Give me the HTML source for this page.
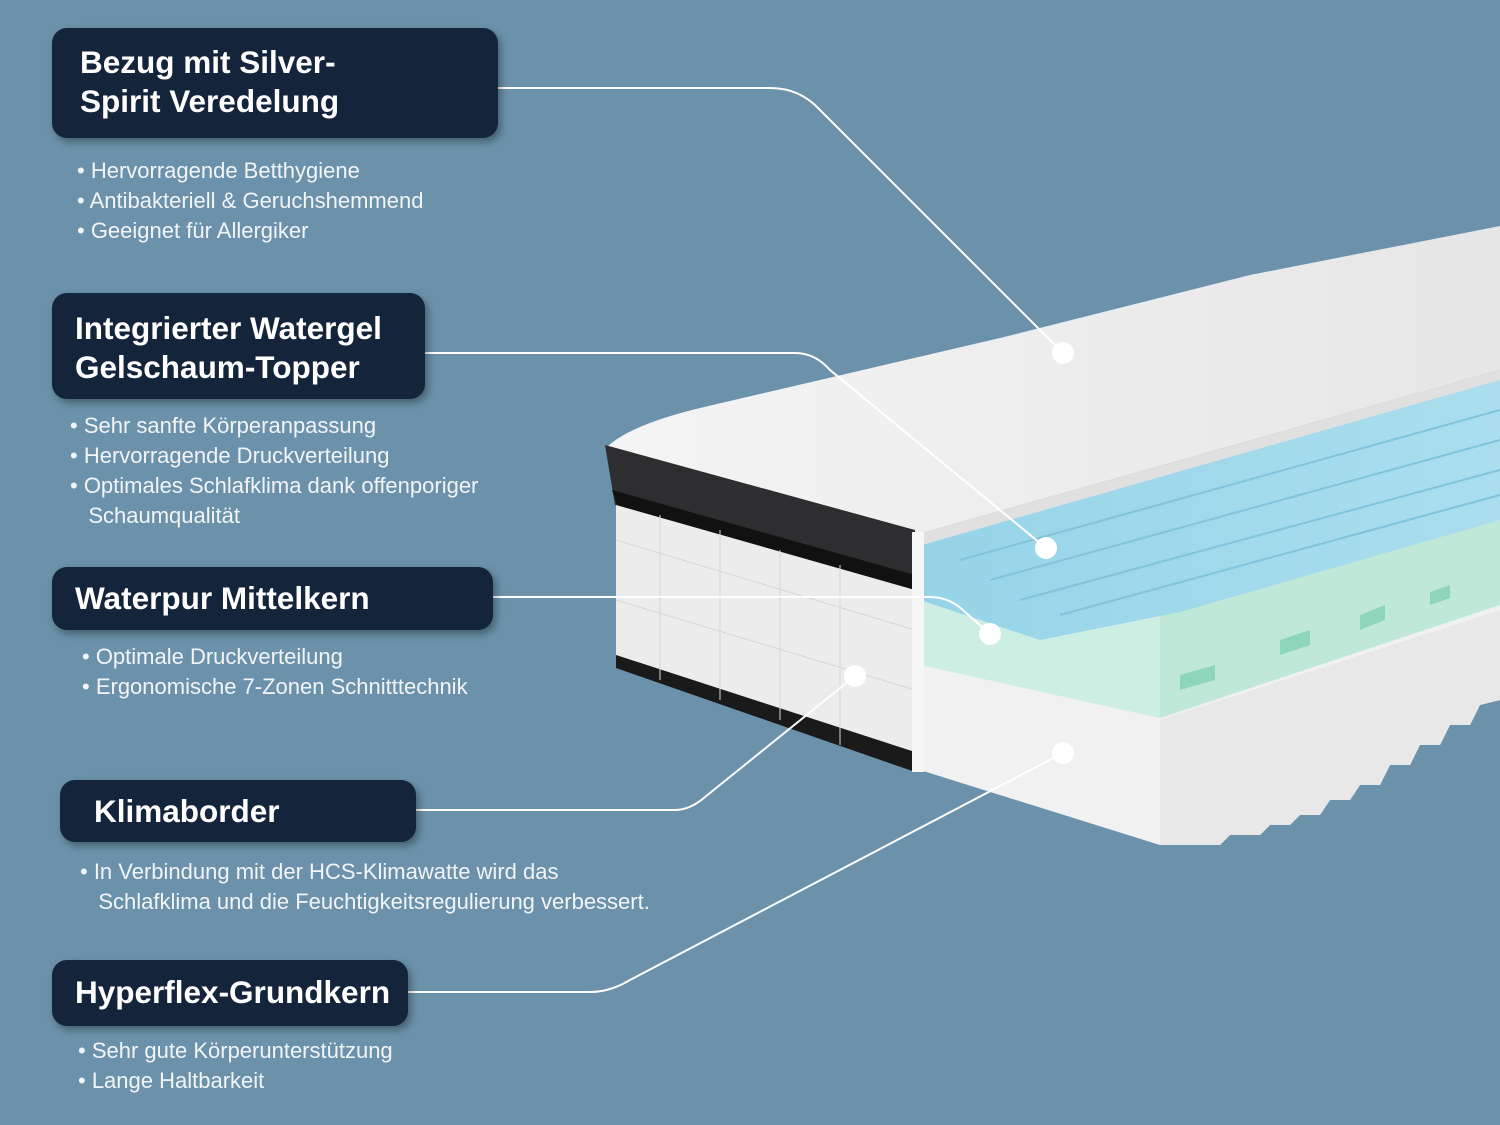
<!DOCTYPE html>
<html><head><meta charset="utf-8"><style>
body{margin:0;width:1500px;height:1125px;background:#6b92aa;position:relative;overflow:hidden;font-family:"Liberation Sans",Arial,sans-serif;}
.box{position:absolute;background:#14243b;border-radius:15px;color:#fff;font-weight:bold;font-size:31.5px;line-height:39px;box-shadow:3px 4px 8px rgba(0,0,0,0.35);box-sizing:border-box;white-space:nowrap;}
.ul{position:absolute;color:#f2f5f8;font-size:22px;line-height:30px;white-space:nowrap;}
svg{position:absolute;left:0;top:0;}
</style></head><body>
<svg width="1500" height="1125" viewBox="0 0 1500 1125">
<defs>
<linearGradient id="cov" x1="0" y1="0" x2="1" y2="0"><stop offset="0" stop-color="#f4f4f4"/><stop offset="1" stop-color="#e6e6e6"/></linearGradient>
<linearGradient id="blu" x1="0" y1="0" x2="1" y2="0"><stop offset="0" stop-color="#97d4e8"/><stop offset="1" stop-color="#aadeee"/></linearGradient>
</defs>
<polygon points="920,660 1500,590 1500,700 1480,705 1470,725 1450,725 1440,745 1420,745 1410,765 1390,765 1380,785 1360,785 1350,800 1330,800 1320,815 1300,815 1290,825 1270,825 1260,835 1230,835 1220,845 1160,845 920,770" fill="#f1f1f1"/>
<polygon points="1160,720 1500,610 1500,700 1480,705 1470,725 1450,725 1440,745 1420,745 1410,765 1390,765 1380,785 1360,785 1350,800 1330,800 1320,815 1300,815 1290,825 1270,825 1260,835 1230,835 1220,845 1160,845" fill="#e8e8e8"/>
<polygon points="920,590 1500,505 1500,605 1160,718 920,665" fill="#cdeee3"/>
<polygon points="1160,610 1500,505 1500,605 1160,718" fill="#bfe8d8"/>
<polygon points="1180,690 1215,680 1215,665 1180,675" fill="#8ed6bb"/>
<polygon points="1280,655 1310,645 1310,630 1280,640" fill="#8ed6bb"/>
<polygon points="1360,630 1385,620 1385,605 1360,615" fill="#8ed6bb"/>
<polygon points="1430,605 1450,598 1450,585 1430,592" fill="#8ed6bb"/>
<polygon points="920,535 1500,372 1500,520 1180,612 1040,640 920,600" fill="url(#blu)"/>
<g stroke="#80c3da" stroke-width="2" fill="none">
<line x1="960" y1="560" x2="1500" y2="410"/><line x1="990" y1="580" x2="1500" y2="440"/><line x1="1020" y1="600" x2="1500" y2="470"/><line x1="1060" y1="615" x2="1500" y2="495"/>
</g>
<path d="M607,447 Q630,425 700,408 L1000,338 L1250,275 L1500,226 L1500,370 L915,535 Z" fill="url(#cov)"/>
<path d="M915,535 L1500,370 L1500,380 L922,545 Z" fill="#e0e0e0"/>
<polygon points="605,445 915,530 915,590 615,505" fill="#2e2e30"/>
<polygon points="612,490 915,575 915,592 618,508" fill="#111"/>
<polygon points="616,505 915,590 915,772 616,665" fill="#ececec"/>
<polygon points="616,655 915,752 915,772 616,668" fill="#1a1a1a"/>
<g stroke="#d6d6d6" stroke-width="1">
<line x1="616" y1="540" x2="915" y2="630"/><line x1="616" y1="600" x2="915" y2="690"/>
<line x1="660" y1="515" x2="660" y2="680"/><line x1="720" y1="530" x2="720" y2="700"/><line x1="780" y1="550" x2="780" y2="720"/><line x1="840" y1="565" x2="840" y2="745"/>
</g>
<rect x="912" y="532" width="12" height="240" fill="#f6f6f6"/>
<g stroke="#fff" stroke-width="2" fill="none">
<path d="M498,88 L770,88 Q800,88 820,110 L1063,353"/>
<path d="M425,353 L795,353 Q815,353 830,370 L1046,548"/>
<path d="M493,597 L930,597 Q950,597 965,612 L990,634"/>
<path d="M416,810 L675,810 Q690,810 705,797 L855,676"/>
<path d="M408,992 L590,992 Q610,992 630,980 L1063,753"/>
</g>
<g fill="#fff">
<circle cx="1063" cy="353" r="11"/><circle cx="1046" cy="548" r="11"/><circle cx="990" cy="634" r="11"/><circle cx="855" cy="676" r="11"/><circle cx="1063" cy="753" r="11"/>
</g>
</svg>

<div class="box" style="left:52px;top:28px;width:446px;height:110px;padding:15px 0 0 28px;">Bezug mit Silver-<br>Spirit Veredelung</div>
<div class="ul" style="left:77px;top:156px;">• Hervorragende Betthygiene<br>• Antibakteriell &amp; Geruchshemmend<br>• Geeignet für Allergiker</div>

<div class="box" style="left:52px;top:293px;width:373px;height:106px;padding:16px 0 0 23px;">Integrierter Watergel<br>Gelschaum-Topper</div>
<div class="ul" style="left:70px;top:411px;">• Sehr sanfte Körperanpassung<br>• Hervorragende Druckverteilung<br>• Optimales Schlafklima dank offenporiger<br>&nbsp;&nbsp;&nbsp;Schaumqualität</div>

<div class="box" style="left:52px;top:567px;width:441px;height:63px;padding:12px 0 0 23px;">Waterpur Mittelkern</div>
<div class="ul" style="left:82px;top:642px;">• Optimale Druckverteilung<br>• Ergonomische 7-Zonen Schnitttechnik</div>

<div class="box" style="left:60px;top:780px;width:356px;height:62px;padding:12px 0 0 34px;">Klimaborder</div>
<div class="ul" style="left:80px;top:857px;">• In Verbindung mit der HCS-Klimawatte wird das<br>&nbsp;&nbsp;&nbsp;Schlafklima und die Feuchtigkeitsregulierung verbessert.</div>

<div class="box" style="left:52px;top:960px;width:356px;height:66px;padding:13px 0 0 23px;">Hyperflex-Grundkern</div>
<div class="ul" style="left:78px;top:1036px;">• Sehr gute Körperunterstützung<br>• Lange Haltbarkeit</div>
</body></html>
